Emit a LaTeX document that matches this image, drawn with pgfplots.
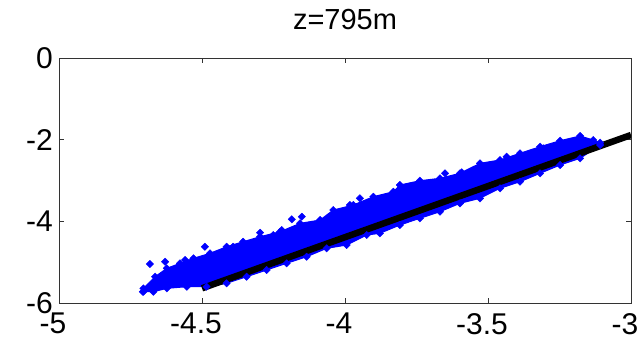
\documentclass[border=0pt]{standalone}
\usepackage{fontspec}
\setmainfont{Liberation Sans}
\usepackage{pgfplots}
\usepackage{pgfplotstable}
\pgfplotsset{compat=1.18}

% outline of the dense cloud: upper edge left to right, lower edge right to left
\pgfplotstableread{
x y
-4.705 -5.641
-4.664 -5.356
-4.623 -5.151
-4.577 -5.028
-4.530 -4.906
-4.472 -4.783
-4.414 -4.622
-4.356 -4.499
-4.297 -4.377
-4.227 -4.254
-4.157 -4.049
-4.087 -3.968
-4.041 -3.723
-3.971 -3.600
-3.901 -3.397
-3.831 -3.275
-3.808 -3.110
-3.738 -3.005
-3.668 -2.946
-3.598 -2.824
-3.528 -2.579
-3.458 -2.498
-3.388 -2.334
-3.318 -2.172
-3.248 -2.025
-3.178 -1.910
-3.132 -2.008
-3.108 -2.074
-3.108 -2.131
-3.178 -2.457
-3.248 -2.621
-3.318 -2.824
-3.388 -3.030
-3.458 -3.191
-3.528 -3.436
-3.598 -3.559
-3.668 -3.764
-3.738 -3.926
-3.808 -4.090
-3.878 -4.293
-3.924 -4.335
-3.994 -4.580
-4.064 -4.661
-4.134 -4.867
-4.204 -5.028
-4.274 -5.192
-4.344 -5.356
-4.414 -5.518
-4.484 -5.601
-4.553 -5.601
-4.623 -5.641
-4.670 -5.724
-4.705 -5.724
}\cloud

% isolated points outside the dense core
\pgfplotstableread{
x y
-4.707 -5.724
-4.682 -5.045
-4.629 -4.989
-4.559 -4.947
-4.490 -4.622
-4.391 -4.622
-4.297 -4.279
-4.251 -4.335
-4.221 -4.213
-4.186 -3.951
-4.151 -3.887
-3.983 -3.600
-3.948 -3.436
-3.650 -2.824
-3.592 -2.799
-3.435 -2.417
-3.307 -2.212
}\outliers

\begin{document}
\begin{tikzpicture}
\path[use as bounding box] (-59bp,-37bp) rectangle (585bp,303bp);
\begin{axis}[
  at={(0,0)}, anchor=south west,
  scale only axis,
  width=572bp, height=245bp,
  xmin=-5, xmax=-3, ymin=-6, ymax=0,
  xtick={-5,-4.5,-4,-3.5,-3},
  xticklabels={-5,-4.5,-4,-3.5,-3},
  ytick={-6,-4,-2,0},
  yticklabels={-6,-4,-2,0},
  tick align=inside,
  major tick length=5bp,
  axis line style={black!80, line width=0.8bp},
  every tick/.style={black!80, line width=0.8bp},
  tick label style={font=\fontsize{30bp}{36bp}\selectfont, black, inner sep=0pt},
  xticklabel style={anchor=north, yshift=-10bp, xshift=-6bp},
  yticklabel style={anchor=east, xshift=-6bp},
  title={z=795m},
  title style={font=\fontsize{29bp}{35bp}\selectfont, at={(0.5,1)}, anchor=base, yshift=23bp, inner sep=0pt},
  clip=true,
]
\addplot[fill=blue, draw=blue, line width=1bp] table[x=x, y=y] {\cloud};
\addplot[only marks, mark=square*, mark size=2.6bp, mark options={rotate=45}, color=blue] table[x=x, y=y] {\cloud};
\addplot[only marks, mark=square*, mark size=2.6bp, mark options={rotate=45}, color=blue] table[x=x, y=y] {\outliers};
\addplot[black, line width=6.5bp, line cap=butt] coordinates {(-4.5,-5.64) (-3,-1.886)};
\end{axis}
\end{tikzpicture}
\end{document}
